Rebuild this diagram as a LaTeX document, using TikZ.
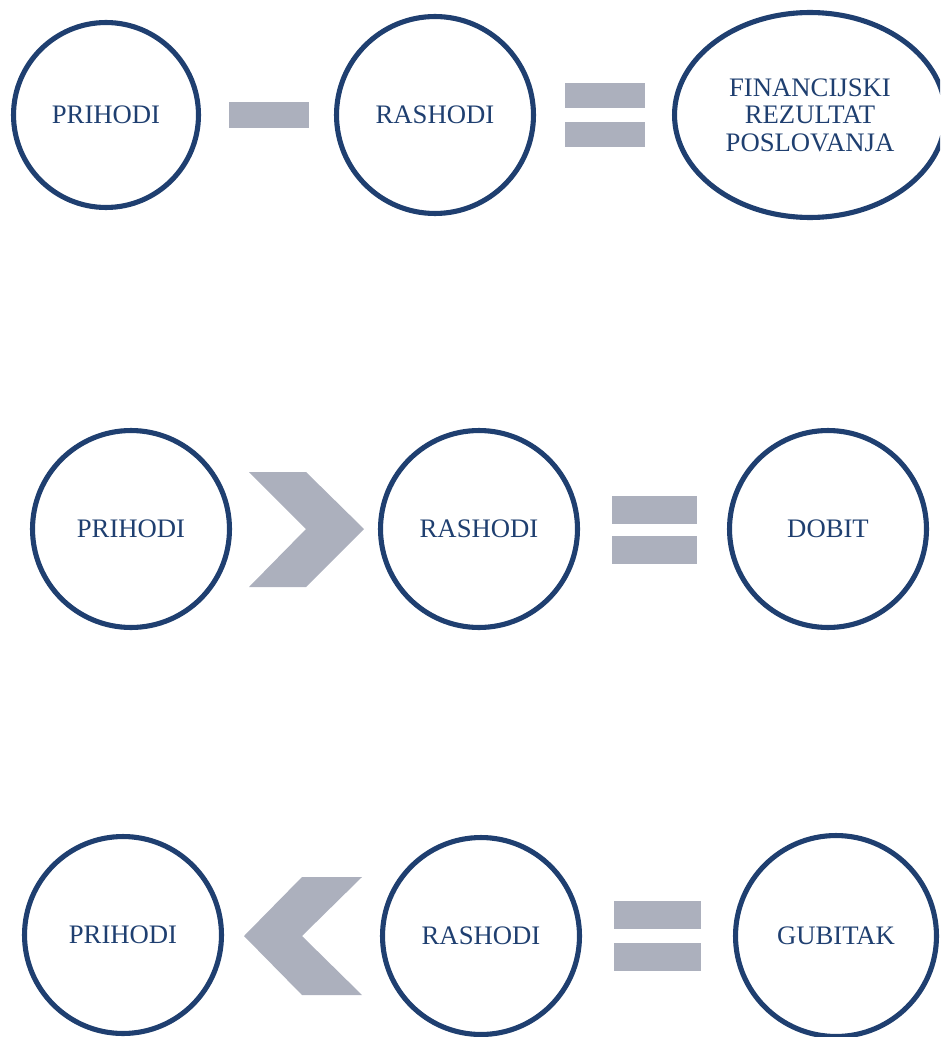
\documentclass[tikz,border=0pt]{standalone}
\usepackage{fontspec}
\setmainfont{Liberation Serif}
\usetikzlibrary{shapes, positioning}
\definecolor{darkblue}{RGB}{31,63,112}
\definecolor{signgray}{RGB}{172,176,189}

\begin{document}
\begin{tikzpicture}[x=0.02cm, y=-0.02cm, every node/.style={font=\fontsize{15.2}{15.6}\selectfont, text=darkblue}]
\tikzset{krug/.style={draw=darkblue, line width=2.9pt, circle, inner sep=0pt, minimum size=3.94cm}}
\clip (0,0) rectangle (940,1037);

% prvi red
\node[krug, minimum size=3.7cm] (prihodi1) at (106,115) {PRIHODI};
\node[krug] (rashodi1) at (435,115) {RASHODI};
\node[draw=darkblue, line width=2.9pt, ellipse, inner sep=0pt, minimum width=5.42cm, minimum height=4.1cm, align=center] (rezultat) at (810,115) {FINANCIJSKI\\REZULTAT\\POSLOVANJA};

\fill [signgray] (229,102) rectangle (309,128);
\foreach \y in {83,122}
\fill [signgray] (565,\y) rectangle ++(80,25.5);

% drugi red
\node[krug] (prihodi2) at (131,529) {PRIHODI};
\node[krug] (rashodi2) at (479,529) {RASHODI};
\node[krug] (dobit) at (828,529) {DOBIT};

\fill [signgray] (249,472) -- ++(57,0) -- ++(58,57) -- ++(-58,58) -- ++(-57,0) -- ++(57,-58) -- cycle;
\foreach \y in {496,536}
\fill [signgray] (612,\y) rectangle ++(85,27.5);

% treci red
\node[krug] (prihodi3) at (123,935) {PRIHODI};
\node[krug] (rashodi3) at (481,936) {RASHODI};
\node[krug, minimum size=4.02cm] (gubitak) at (836,936) {GUBITAK};

\fill [signgray] (362,877) -- ++(-60,0) -- ++(-58,59) -- ++(58,59) -- ++(60,0) -- ++(-60,-59) -- cycle;
\foreach \y in {901,943}
\fill [signgray] (614,\y) rectangle ++(87,28);

\end{tikzpicture}
\end{document}
